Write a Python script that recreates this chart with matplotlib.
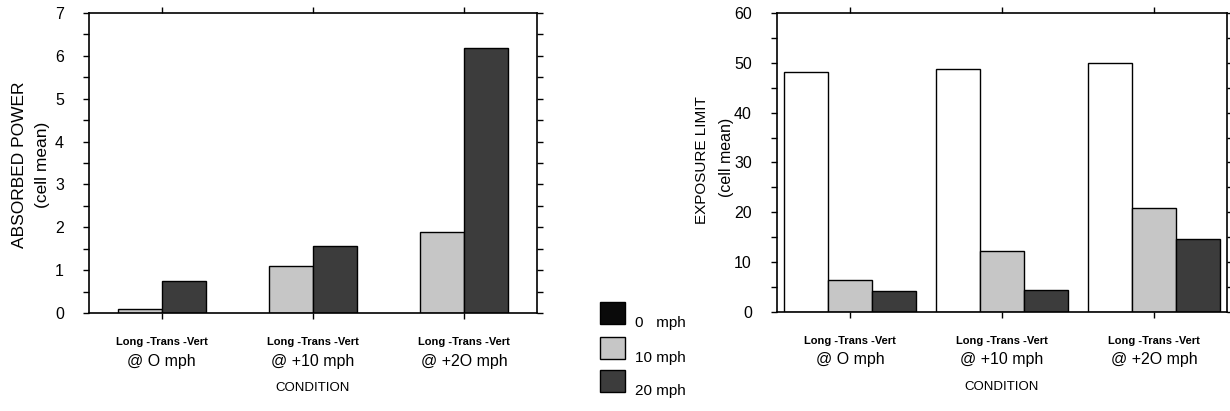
import matplotlib
matplotlib.use("Agg")
import matplotlib.pyplot as plt
import numpy as np
from matplotlib.patches import Rectangle
from matplotlib.ticker import MultipleLocator

plt.rcParams['font.family'] = ['Liberation Sans', 'DejaVu Sans']

conditions_line1 = ["Long -Trans -Vert", "Long -Trans -Vert", "Long -Trans -Vert"]
conditions_line2 = ["@ O mph", "@ +10 mph", "@ +2O mph"]
series = ["0   mph", "10 mph", "20 mph"]

# Left chart: absorbed power (only 10 and 20 mph bars shown)
absorbed_10 = [0.10, 1.10, 1.90]
absorbed_20 = [0.75, 1.56, 6.18]

# Right chart: exposure limit
exposure_0 = [48.2, 48.8, 50.0]
exposure_10 = [6.4, 12.2, 20.8]
exposure_20 = [4.2, 4.4, 14.6]

LIGHT = "#c6c6c6"
DARK = "#3c3c3c"
BLACK = "#0a0a0a"

fig = plt.figure(figsize=(12.30, 4.11), dpi=100)
axL = fig.add_axes([0.0724, 0.2384, 0.3642, 0.7300])
axR = fig.add_axes([0.6317, 0.2409, 0.3659, 0.7275])

x = np.arange(3)
w = 0.29

def style(ax, ymax, major, minor):
    ax.set_xlim(-0.48, 2.48)
    ax.set_ylim(0, ymax)
    ax.yaxis.set_major_locator(MultipleLocator(major))
    ax.yaxis.set_minor_locator(MultipleLocator(minor))
    ax.tick_params(axis='y', which='both', direction='out', length=4, width=1,
                   left=True, right=True, labelsize=11.5, pad=14)
    ax.tick_params(axis='x', which='both', direction='out', length=4, width=1,
                   top=True, bottom=True, labelsize=8)
    ax.set_xticks(x)
    ax.set_xticklabels(conditions_line1, fontsize=8, fontweight='bold')
    ax.tick_params(axis='x', pad=13)
    for s in ax.spines.values():
        s.set_linewidth(1.2)
    trans = ax.get_xaxis_transform()
    for xi, t in zip(x, conditions_line2):
        ax.annotate(t, xy=(xi, 0), xycoords=trans, xytext=(0, -48),
                    textcoords='offset pixels', ha='center', va='center',
                    fontsize=11.5)
    ax.annotate("CONDITION", xy=(0.5, 0), xycoords='axes fraction',
                xytext=(0, -75), textcoords='offset pixels',
                ha='center', va='center', fontsize=9.5)

# Left chart
axL.bar(x - w / 2, absorbed_10, w, color=LIGHT, edgecolor='black', linewidth=1)
axL.bar(x + w / 2, absorbed_20, w, color=DARK, edgecolor='black', linewidth=1)
style(axL, 7, 1, 0.5)

# Right chart
axR.bar(x - w, exposure_0, w, color='white', edgecolor='black', linewidth=1)
axR.bar(x, exposure_10, w, color=LIGHT, edgecolor='black', linewidth=1)
axR.bar(x + w, exposure_20, w, color=DARK, edgecolor='black', linewidth=1)
style(axR, 60, 10, 5)

# Y labels
fig.text(20 / 1230, 1 - 165 / 411, "ABSORBED POWER", rotation=90,
         ha='center', va='center', fontsize=12.5)
fig.text(43 / 1230, 1 - 165 / 411, "(cell mean)", rotation=90,
         ha='center', va='center', fontsize=12.5)
fig.text(702 / 1230, 1 - 160 / 411, "EXPOSURE LIMIT", rotation=90,
         ha='center', va='center', fontsize=11)
fig.text(726 / 1230, 1 - 157 / 411, "(cell mean)", rotation=90,
         ha='center', va='center', fontsize=11.5)

# Legend
legend_colors = [BLACK, LIGHT, DARK]
legend_y = [313, 348, 381]
for c, yy, lab in zip(legend_colors, legend_y, series):
    fig.patches.append(Rectangle(((600) / 1230, 1 - (yy + 11) / 411), 25 / 1230, 22 / 411,
                                 transform=fig.transFigure, facecolor=c,
                                 edgecolor='black', linewidth=1))
    fig.text(635 / 1230, 1 - (yy + 10) / 411, lab, ha='left', va='center', fontsize=11)

fig.savefig("out.png", dpi=100)
